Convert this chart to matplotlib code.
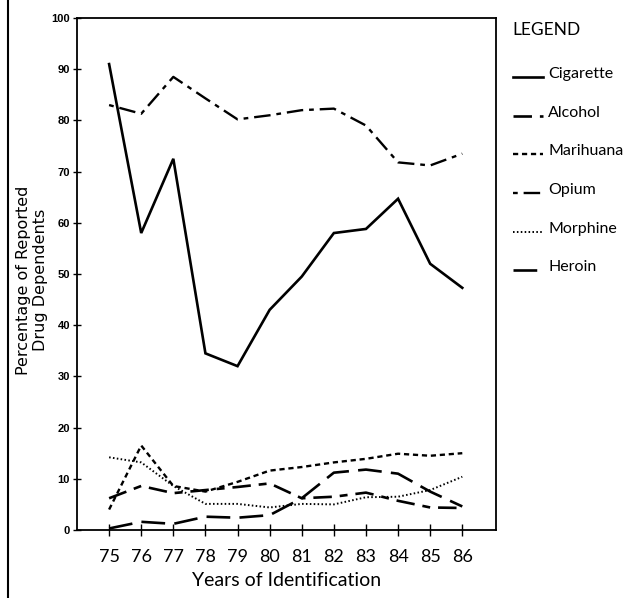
import matplotlib.pyplot as plt
import numpy as np
from matplotlib.lines import Line2D

years = np.array([75, 76, 77, 78, 79, 80, 81, 82, 83, 84, 85, 86])

cigarette = [91, 58, 72.5, 34.5, 32, 43, 49.5, 58, 58.8, 64.7, 52, 47.3]
alcohol = [6.2, 8.6, 7.2, 7.8, 8.4, 9.1, 6.2, 6.5, 7.3, 5.7, 4.4, 4.3]
marihuana = [4.0, 16.5, 8.6, 7.5, 9.4, 11.6, 12.3, 13.2, 13.9, 14.9, 14.5, 15.0]
opium = [83, 81.3, 88.5, 84.3, 80.2, 81, 82, 82.3, 79, 71.8, 71.2, 73.5]
morphine = [14.2, 13.2, 8.6, 5.1, 5.1, 4.4, 5.1, 5.0, 6.4, 6.5, 7.8, 10.4]
heroin = [0.3, 1.6, 1.2, 2.6, 2.4, 2.9, 6.2, 11.2, 11.8, 11.0, 7.5, 4.6]

names = ['Cigarette', 'Alcohol', 'Marihuana', 'Opium', 'Morphine', 'Heroin']
series = [cigarette, alcohol, marihuana, opium, morphine, heroin]
styles = [
    (None, 1.9),
    ((7, 3, 3, 3), 1.9),
    ((2.2, 1.6), 1.7),
    ((2, 2.5, 7, 2.5), 1.7),
    ((0.8, 1.2), 1.4),
    ((9, 3.5), 1.9),
]

plt.rcParams['font.family'] = ['DejaVu Sans']

fig = plt.figure(figsize=(6.26, 5.98), dpi=100)
ax = fig.add_axes([77 / 626, 68 / 598, 419 / 626, 512 / 598])

for vals, (dash, lw) in zip(series, styles):
    if dash is None:
        ax.plot(years, vals, color='black', lw=lw, solid_joinstyle='miter')
    else:
        ax.plot(years, vals, color='black', lw=lw, dashes=dash)

ax.set_xlim(74, 87.05)
ax.set_ylim(0, 100)
ax.set_xticks(years)
ax.set_xticklabels([str(y) for y in years], fontsize=13, family='Lato')
ax.set_yticks(np.arange(0, 101, 10))
ax.set_yticklabels([str(v) for v in range(0, 101, 10)], fontsize=8,
                   family='Liberation Sans', fontweight='bold')
ax.tick_params(axis='x', direction='inout', length=8, width=1, pad=10)
ax.tick_params(axis='y', direction='inout', length=6, width=1, pad=2)
for s in ax.spines.values():
    s.set_linewidth(1.3)

ax.set_xlabel('Years of Identification', fontsize=14, family='Lato', labelpad=5)
fig.text(24 / 626, 1 - 280 / 598, 'Percentage of Reported', rotation=90,
         ha='center', va='center', fontsize=11.5, family='DejaVu Sans')
fig.text(41 / 626, 1 - 280 / 598, 'Drug Dependents', rotation=90,
         ha='center', va='center', fontsize=11.5, family='DejaVu Sans')

# legend drawn by hand at right
fig.text(512 / 626, 1 - 30 / 598, 'LEGEND', fontsize=12.5, family='Lato',
         ha='left', va='center')
leg_y = [74, 113, 151, 190, 229, 267]
for name, (dash, lw), yy in zip(names, styles, leg_y):
    yf = 1 - (yy + 3) / 598
    ln = Line2D([513 / 626, 543 / 626], [yf, yf], transform=fig.transFigure,
                color='black', lw=lw)
    if dash is not None:
        ln.set_dashes(dash)
    fig.add_artist(ln)
    fig.text(548 / 626, 1 - yy / 598, name, fontsize=11.5, family='Lato',
             ha='left', va='center')

# left border line of the page
fig.add_artist(Line2D([8 / 626, 8 / 626], [0, 1], transform=fig.transFigure,
                      color='black', lw=1.5))

fig.savefig('out.png', dpi=100)
